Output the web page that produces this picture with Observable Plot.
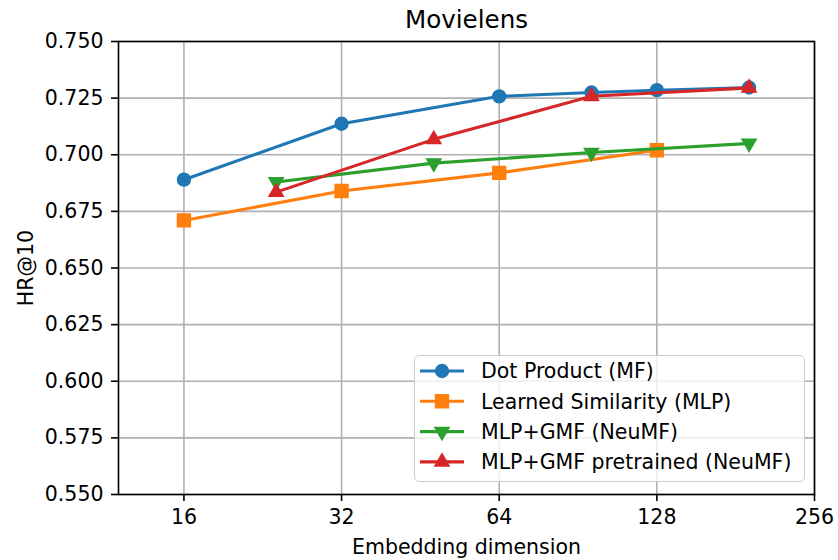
<!DOCTYPE html>
<html><head><meta charset="utf-8">
<script src="https://cdn.jsdelivr.net/npm/d3@7"></script>
<script src="https://cdn.jsdelivr.net/npm/@observablehq/plot@0.6"></script>
<style>
body{margin:0;background:#fff;}
#wrap{position:relative;width:838px;height:560px;font-family:"DejaVu Sans",sans-serif;}
#legend{position:absolute;left:414px;top:355px;width:391px;height:127px;box-sizing:border-box;border:1.6px solid #cccccc;border-radius:5px;background:rgba(255,255,255,0.8);}
</style></head><body><div id="wrap"></div>
<script>
// ---- data ----
const titleText = "Movielens";
const xLabel = "Embedding dimension";
const yLabel = "HR@10";
const xTicks = [16, 32, 64, 128, 256];
const yTicks = [0.55, 0.575, 0.6, 0.625, 0.65, 0.675, 0.7, 0.725, 0.75];

const seriesNames = ["Dot Product (MF)", "Learned Similarity (MLP)", "MLP+GMF (NeuMF)", "MLP+GMF pretrained (NeuMF)"];
const seriesColors = ["#1f77b4", "#ff7f0e", "#2ca02c", "#d62728"];
const seriesSymbols = ["circle", "square", "triangleDown", "triangle"];

const dotX = [16, 32, 64, 96, 128, 192];
const dotY = [0.689, 0.7137, 0.7258, 0.7275, 0.7285, 0.7297];
const mlpX = [16, 32, 64, 128];
const mlpY = [0.671, 0.684, 0.692, 0.702];
const neumfX = [24, 48, 96, 192];
const neumfY = [0.688, 0.6963, 0.701, 0.705];
const preX = [24, 48, 96, 192];
const preY = [0.6835, 0.7068, 0.7258, 0.7295];

const seriesX = [dotX, mlpX, neumfX, preX];
const seriesY = [dotY, mlpY, neumfY, preY];

// ---- marker sizes (px) ----
const MS = 12.3;     // marker size
const MEW = 2.05;    // marker edge width
const LW = 3.1;      // line width
const FS = 20.5;     // font size
const symbolSpec = {
  circle: {symbol: "circle", r: MS / 2, rotate: 0, d3sym: d3.symbolCircle, join: "round"},
  square: {symbol: "square", r: MS / Math.sqrt(Math.PI), rotate: 0, d3sym: d3.symbolSquare, join: "miter"},
  triangle: {symbol: "triangle", r: Math.sqrt(0.5 * MS * MS / Math.PI), rotate: 0, d3sym: d3.symbolTriangle, join: "miter"},
  triangleDown: {symbol: "triangle", r: Math.sqrt(0.5 * MS * MS / Math.PI), rotate: 180, d3sym: d3.symbolTriangle, join: "miter"}
};

const seriesMarks = [];
seriesNames.forEach((name, i) => {
  const rows = seriesX[i].map((x, j) => ({x, y: seriesY[i][j]}));
  const sp = symbolSpec[seriesSymbols[i]];
  seriesMarks.push(Plot.line(rows, {x: "x", y: "y", stroke: seriesColors[i], strokeWidth: LW, strokeLinejoin: "round", strokeLinecap: "square"}));
  seriesMarks.push(Plot.dot(rows, {x: "x", y: "y", symbol: sp.symbol, r: sp.r, rotate: sp.rotate, fill: seriesColors[i], stroke: seriesColors[i], strokeWidth: MEW, strokeLinejoin: sp.join}));
});

const gridStyle = {stroke: "#b0b0b0", strokeOpacity: 1, strokeWidth: 1.6};

const chart = Plot.plot({
  width: 838, height: 560,
  marginLeft: 118, marginRight: 24, marginTop: 41, marginBottom: 66,
  style: {fontFamily: "DejaVu Sans, sans-serif", fontSize: FS + "px", color: "#000", background: "#fff"},
  x: {type: "log", base: 2, domain: [12, 256]},
  y: {domain: [0.55, 0.75]},
  marks: [
    Plot.gridX(xTicks, gridStyle),
    Plot.gridY(yTicks, gridStyle),
    ...seriesMarks,
    Plot.frame({stroke: "#000", strokeWidth: 1.6}),
    Plot.axisX(xTicks, {tickSize: 7, tickPadding: 8, tickFormat: d => String(d), label: null, strokeWidth: 1.6, fontSize: FS}),
    Plot.axisY(yTicks, {tickSize: 7, tickPadding: 8, tickFormat: d3.format(".3f"), label: null, strokeWidth: 1.6, fontSize: FS}),
    Plot.text([titleText], {frameAnchor: "top", dy: -21, fontSize: 24.6, lineAnchor: "middle", fill: "#000"}),
    Plot.text([xLabel], {frameAnchor: "bottom", dy: 53.4, fontSize: FS, lineAnchor: "middle", fill: "#000"}),
    Plot.text([yLabel], {frameAnchor: "left", dx: -91.6, rotate: -90, fontSize: FS, lineAnchor: "middle", textAnchor: "middle", fill: "#000"})
  ]
});

const wrap = document.getElementById("wrap");
wrap.appendChild(chart);

// ---- legend overlay ----
const legend = document.createElement("div");
legend.id = "legend";
wrap.appendChild(legend);
const lsvg = d3.select(legend).append("svg").attr("width", 391).attr("height", 127)
  .style("position", "absolute").style("left", "-1.6px").style("top", "-1.6px").style("overflow", "visible");
seriesNames.forEach((name, i) => {
  const cy = 17 + i * 30.3;
  const g = lsvg.append("g").attr("transform", `translate(0,${cy})`);
  g.append("line").attr("x1", 7).attr("x2", 51).attr("y1", 0).attr("y2", 0)
    .attr("stroke", seriesColors[i]).attr("stroke-width", LW);
  const sp = symbolSpec[seriesSymbols[i]];
  g.append("path").attr("d", d3.symbol(sp.d3sym, Math.PI * sp.r * sp.r)())
    .attr("transform", `translate(29,0) rotate(${sp.rotate})`)
    .attr("fill", seriesColors[i]).attr("stroke", seriesColors[i])
    .attr("stroke-width", MEW).attr("stroke-linejoin", sp.join);
  g.append("text").attr("x", 68).attr("y", 0).attr("dy", "0.36em").attr("font-size", FS)
    .attr("font-family", "DejaVu Sans, sans-serif").attr("fill", "#000").text(name);
});
</script></body></html>
